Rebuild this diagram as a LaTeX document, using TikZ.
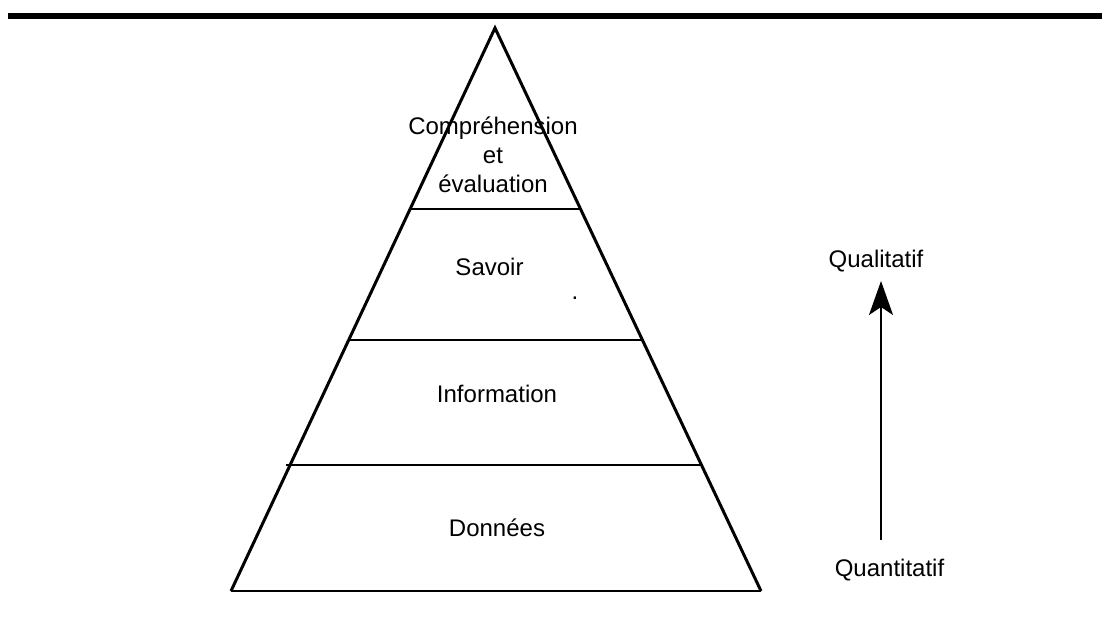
\documentclass[tikz,border=0pt]{standalone}
\usepackage{fontspec}
\setmainfont{Liberation Sans}
\usetikzlibrary{arrows.meta,calc}

\begin{document}
\begin{tikzpicture}[
  x=0.5pt,y=-0.5pt,
  >=Stealth,
  label/.style={font=\fontsize{12}{14.5}\selectfont,inner sep=0pt,align=center},
  side/.style={line width=1.5pt,line join=miter},
  divider/.style={line width=1pt}
]
  \useasboundingbox (0,0) rectangle (1102,621);
  \draw[line width=3pt] (8,16) -- (1102,16);

  % pyramid
  \coordinate (apex) at (495,28);
  \coordinate (baseL) at (231,591);
  \coordinate (baseR) at (761,591);
  \draw[side] (baseL) -- (apex) -- (baseR);
  \draw[divider] (baseL) -- (baseR);
  \draw[divider] ($(baseL)!0.2238!(apex)+(-4,0)$) -- ($(baseR)!0.2238!(apex)$);
  \draw[divider] ($(baseL)!0.4458!(apex)$) -- ($(baseR)!0.4458!(apex)$);
  \draw[divider] ($(baseL)!0.6785!(apex)$) -- ($(baseR)!0.6785!(apex)$);

  \node[label] (comp) at (493,155) {Compréhension\\et\\évaluation};
  \node[label,anchor=base] (savoir) at (489.5,275) {Savoir};
  \node[label,anchor=base] (dot) at (575,299) {.};
  \node[label,anchor=base] (info) at (497,402) {Information};
  \node[label,anchor=base] (donnees) at (497,536) {Données};

  % quantity to quality
  \node[label,anchor=base] (quali) at (876,267) {Qualitatif};
  \node[label,anchor=base] (quanti) at (889.5,576) {Quantitatif};
  \coordinate (arrowLow) at (881,540);
  \coordinate (arrowHigh) at (881,281);
  \draw[line width=1pt,-{Stealth[length=17pt,width=12pt,inset=4pt]}] (arrowLow) -- (arrowHigh);
\end{tikzpicture}
\end{document}
